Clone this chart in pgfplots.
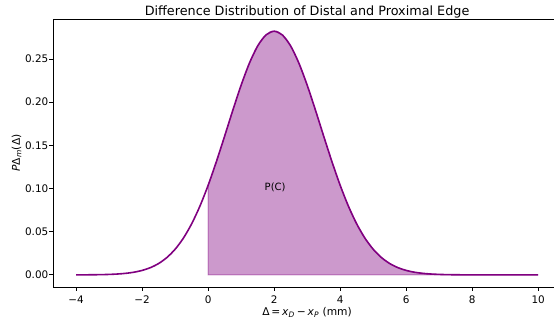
\documentclass[border=0pt]{standalone}
\usepackage{fontspec}
\setmainfont{DejaVu Sans}
\usepackage{pgfplots}
\usepackage{pgfplotstable}
\pgfplotsset{compat=1.18}
\definecolor{mplpurple}{RGB}{128,0,128}

% Normal density of the edge difference, mean 2 mm, variance 2 mm^2
\pgfplotstableread{
x      p
-4.00  0.0000348
-3.75  0.0000726
-3.50  0.000147
-3.25  0.000287
-3.00  0.000545
-2.75  0.001002
-2.50  0.00179
-2.25  0.003086
-2.00  0.00517
-1.75  0.00839
-1.50  0.01319
-1.25  0.02012
-1.00  0.02973
-0.75  0.04258
-0.50  0.05913
-0.25  0.07957
 0.00  0.10378
 0.25  0.13119
 0.50  0.16073
 0.75  0.19088
 1.00  0.21970
 1.25  0.24509
 1.50  0.26500
 1.75  0.27772
 2.00  0.28209
 2.25  0.27772
 2.50  0.26500
 2.75  0.24509
 3.00  0.21970
 3.25  0.19088
 3.50  0.16073
 3.75  0.13119
 4.00  0.10378
 4.25  0.07957
 4.50  0.05913
 4.75  0.04258
 5.00  0.02973
 5.25  0.02012
 5.50  0.01319
 5.75  0.00839
 6.00  0.00517
 6.25  0.003086
 6.50  0.00179
 6.75  0.001002
 7.00  0.000545
 7.25  0.000287
 7.50  0.000147
 7.75  0.0000726
 8.00  0.0000348
 8.50  0.0000073
 9.00  0.0000014
 9.50  0.0000002
10.00  0.0
}\density

\newcommand\lblfont{\fontsize{7.7}{9.2}\selectfont}
\newcommand\tckfont{\fontsize{7.5}{9}\selectfont}
\begin{document}
\begin{tikzpicture}
\begin{axis}[
  width=360.7pt, height=193pt, scale only axis,
  xmin=-4.7, xmax=10.48,
  ymin=-0.0141, ymax=0.2962,
  axis lines*=left,
  axis line style={line width=0.6pt, black},
  xtick={-4,-2,0,2,4,6,8,10},
  xticklabels={−4,−2,0,2,4,6,8,10},
  ytick={0,0.05,0.10,0.15,0.20,0.25},
  yticklabels={0.00,0.05,0.10,0.15,0.20,0.25},
  tick align=outside,
  major tick length=2.7pt,
  tick style={line width=0.6pt, black},
  tick label style={font=\tckfont},
  xticklabel style={yshift=-0.3pt},
  yticklabel style={xshift=2.8pt},
  /pgf/number format/assume math mode=true,
  clip=true,
]
  \coordinate (ll) at (rel axis cs:0,0);
  \coordinate (ur) at (rel axis cs:1,1);
  % shaded area P(C) for positive differences
  \addplot[draw=mplpurple, draw opacity=0.4, line width=0.6pt, fill=mplpurple, fill opacity=0.4,
           restrict x to domain=0:10] table[x=x, y=p] {\density} \closedcycle;
  % full density curve
  \addplot[mplpurple, line width=1.15pt, smooth] table[x=x, y=p] {\density};
  \node[font=\fontsize{7.2}{8.6}\selectfont, anchor=base] at (axis cs:2.03,0.098) {P(C)};
\end{axis}
% top frame line
\draw[line width=0.6pt, black] (ll |- ur) -- (ur);
% title and axis labels
\node[font=\fontsize{9.2}{11}\selectfont, anchor=base] at ([xshift=182.9pt, yshift=2.6pt]ll |- ur) {Difference Distribution of Distal and Proximal Edge};
\node[font=\lblfont, anchor=base] at ([xshift=182.9pt, yshift=-20.8pt]ll) {Δ\,=\,\textit{x}\textsubscript{\textit{D}}\,−\,\textit{x}\textsubscript{\textit{P}} (mm)};
\node[font=\lblfont, anchor=base, rotate=90] at ([xshift=-23.8pt, yshift=96.5pt]ll) {\textit{P}Δ\textsubscript{\textit{m}}(Δ)};
\pgfresetboundingbox
\path ([xshift=-38.2pt, yshift=-25.9pt]ll) rectangle ([yshift=13.7pt]ur);
\end{tikzpicture}
\end{document}
